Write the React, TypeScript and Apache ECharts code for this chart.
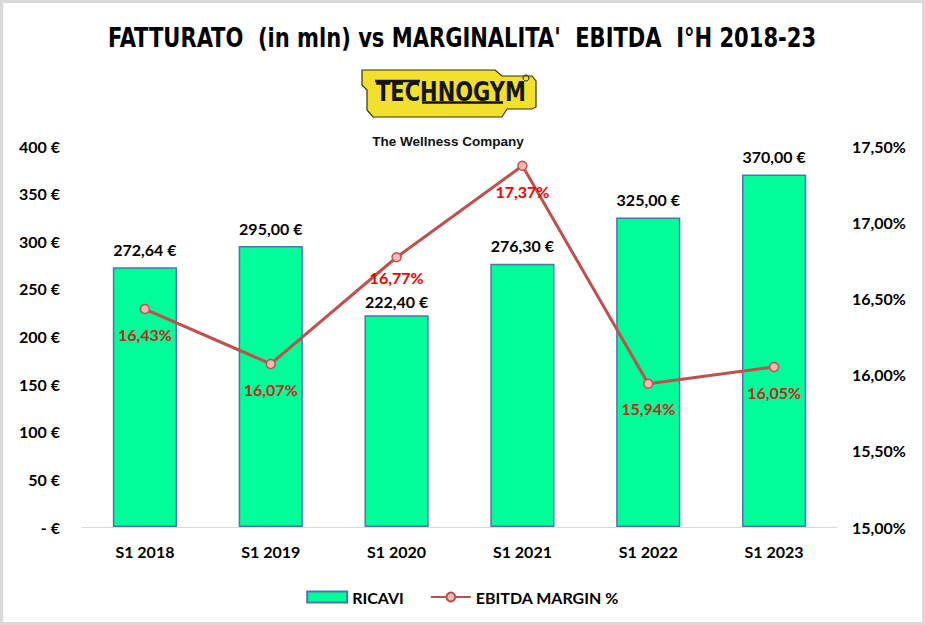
import React, { useEffect, useRef } from "react";
import * as echarts from "echarts";

const categories = ["S1 2018", "S1 2019", "S1 2020", "S1 2021", "S1 2022", "S1 2023"];
const ricavi = [272.64, 295.0, 222.4, 276.3, 325.0, 370.0];
const ebitdaMargin = [16.43, 16.07, 16.77, 17.37, 15.94, 16.05];
const marginLabelOnBar = [true, true, false, false, true, true];

const FONT = "Lato, 'Open Sans', sans-serif";

const fmtEuro = (v: number) => v.toFixed(2).replace(".", ",") + " €";
const fmtPct = (v: number) => v.toFixed(2).replace(".", ",") + "%";

export default function App() {
  const ref = useRef<HTMLDivElement>(null);
  useEffect(() => {
    if (!ref.current) return;
    const chart = echarts.init(ref.current, undefined, { renderer: "svg" });
    const option: any = {
      animation: false,
      backgroundColor: "#ffffff",
      textStyle: { fontFamily: FONT },
      graphic: [
        {
          type: "rect",
          shape: { x: 1.5, y: 1.5, width: 922, height: 622 },
          style: { fill: "none", stroke: "#d9d9d9", lineWidth: 3 },
          silent: true,
        },
        {
          type: "text",
          x: 462,
          y: 38,
          scaleX: 0.9,
          style: {
            text: "FATTURATO  (in mln) vs MARGINALITA'  EBITDA  I°H 2018-23",
            font: "bold 26px 'DejaVu Sans Condensed', 'DejaVu Sans', sans-serif",
            fill: "#000000",
            align: "center",
            verticalAlign: "middle",
          },
          silent: true,
        },
        {
          type: "polygon",
          shape: {
            points: [
              [362, 70], [495, 70], [502, 76], [532, 76], [536, 81], [536, 107],
              [532, 109], [507, 109], [502, 117], [373, 117], [367, 110],
              [367, 90], [362, 85],
            ],
          },
          style: { fill: "#f3df2e", stroke: "#3a3000", lineWidth: 1.2 },
          silent: true,
        },
        {
          type: "text",
          x: 451,
          y: 92,
          scaleY: 1.25,
          style: {
            text: "TECHNOGYM",
            font: "bold 21px 'DejaVu Sans', sans-serif",
            fill: "#151515",
            align: "center",
            verticalAlign: "middle",
          },
          silent: true,
        },
        {
          type: "line",
          shape: { x1: 375, y1: 81, x2: 420, y2: 81 },
          style: { stroke: "#151515", lineWidth: 2.5 },
          silent: true,
        },
        {
          type: "line",
          shape: { x1: 422, y1: 102.5, x2: 503, y2: 102.5 },
          style: { stroke: "#151515", lineWidth: 2.5 },
          silent: true,
        },
        {
          type: "circle",
          shape: { cx: 526, cy: 78, r: 3 },
          style: { fill: "none", stroke: "#151515", lineWidth: 1 },
          silent: true,
        },
        {
          type: "text",
          x: 448,
          y: 141,
          style: {
            text: "The Wellness Company",
            font: "bold 13.5px 'Liberation Sans', Arial, sans-serif",
            fill: "#111111",
            align: "center",
            verticalAlign: "middle",
          },
          silent: true,
        },
      ],
      legend: {
        left: "center",
        top: 584,
        itemWidth: 40,
        itemHeight: 11,
        itemGap: 26,
        textStyle: { fontFamily: FONT, fontWeight: "bold", fontSize: 16, color: "#000" },
        data: [{ name: "RICAVI", icon: "rect" }, { name: "EBITDA MARGIN %" }],
      },
      grid: { left: 82, right: 88, top: 146, bottom: 98, containLabel: false },
      xAxis: {
        type: "category",
        data: categories,
        axisLine: { show: true, lineStyle: { color: "#d9d9d9", width: 1 } },
        axisTick: { show: false },
        axisLabel: {
          margin: 16,
          fontFamily: FONT,
          fontWeight: "bold",
          fontSize: 16,
          color: "#000",
        },
      },
      yAxis: [
        {
          type: "value",
          min: 0,
          max: 400,
          interval: 50,
          splitLine: { show: false },
          axisLine: { show: false },
          axisTick: { show: false },
          axisLabel: {
            margin: 22,
            fontFamily: FONT,
            fontWeight: "bold",
            fontSize: 16,
            color: "#000",
            formatter: (v: number) => (v === 0 ? "- €" : v + " €"),
          },
        },
        {
          type: "value",
          min: 15,
          max: 17.5,
          interval: 0.5,
          position: "right",
          splitLine: { show: false },
          axisLine: { show: false },
          axisTick: { show: false },
          axisLabel: {
            margin: 15,
            fontFamily: FONT,
            fontWeight: "bold",
            fontSize: 16,
            color: "#000",
            formatter: (v: number) => fmtPct(v),
          },
        },
      ],
      series: [
        {
          name: "RICAVI",
          type: "bar",
          data: ricavi.map((v, i) => ({
            value: v,
            label: { distance: i === 2 ? 6 : 10 },
          })),
          barWidth: "51%",
          itemStyle: { color: "#00fd9a", borderColor: "#4f74ad", borderWidth: 1.5 },
          label: {
            show: true,
            position: "top",
            distance: 10,
            fontFamily: FONT,
            fontWeight: "bold",
            fontSize: 16,
            color: "#000",
            formatter: (p: any) => fmtEuro(p.value),
          },
        },
        {
          name: "EBITDA MARGIN %",
          type: "line",
          yAxisIndex: 1,
          data: ebitdaMargin.map((v, i) => ({
            value: v,
            label: {
              color: marginLabelOnBar[i] ? "#c4241a" : "#f20000",
              distance: i === 2 ? 7 : 12,
            },
          })),
          symbol: "circle",
          symbolSize: 9,
          lineStyle: { color: "#c0504d", width: 3 },
          itemStyle: { color: "#f4b8b6", borderColor: "#c0504d", borderWidth: 1.5 },
          label: {
            show: true,
            position: "bottom",
            distance: 12,
            fontFamily: FONT,
            fontWeight: "bold",
            fontSize: 16,
            formatter: (p: any) => fmtPct(p.value),
          },
          z: 3,
        },
      ],
    };
    chart.setOption(option);
    return () => chart.dispose();
  }, []);
  return (
    <div
      ref={ref}
      style={{ position: "absolute", left: 0, top: 0, width: 925, height: 625 }}
    />
  );
}
